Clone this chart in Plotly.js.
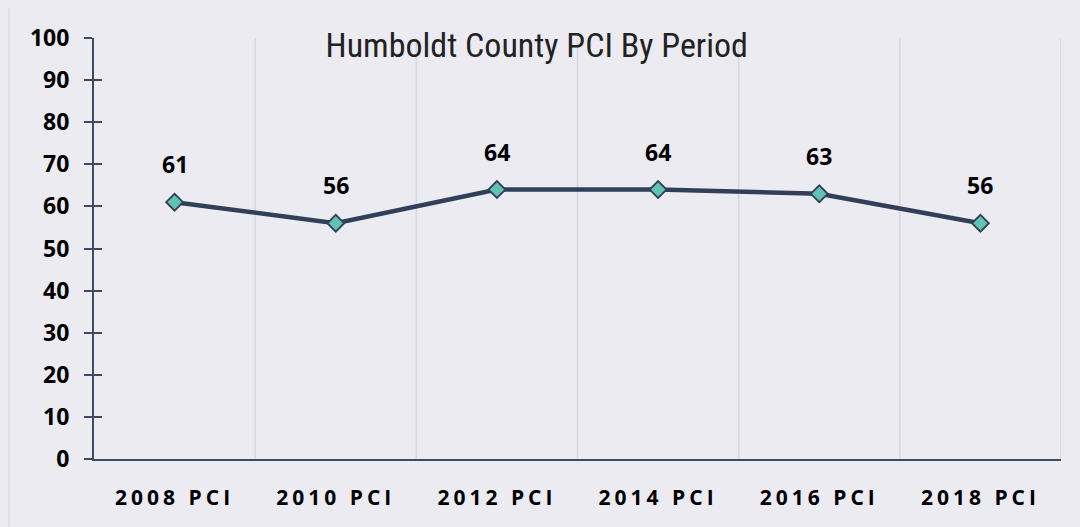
<!DOCTYPE html>
<html><head><meta charset="utf-8">
<script src="https://cdn.plot.ly/plotly-3.0.1.min.js"></script>
<style>
html,body{margin:0;padding:0;background:#ECEBF2;}
#chart{width:1080px;height:527px;}
.xtick text{letter-spacing:4px;}
</style></head>
<body><div id="chart"></div>
<script>
const categories = ["2008 PCI","2010 PCI","2012 PCI","2014 PCI","2016 PCI","2018 PCI"];
const pciValues = [61, 56, 64, 64, 63, 56];
const yTicks = [0,10,20,30,40,50,60,70,80,90,100];

const bg = "#ECEBF2";
const axisColor = "#3E4A62";

const trace = {
  x: categories, y: pciValues, type: "scatter", mode: "lines+markers",
  line: {color: "#323F5B", width: 4.5},
  marker: {symbol: "diamond", size: 13, color: "#5FC4B2", line: {color: "#323F5B", width: 1.8}},
  hoverinfo: "skip", showlegend: false
};
const crossTicks = {x: categories, y: pciValues, yaxis: "y2", type: "scatter", mode: "none", showlegend: false, hoverinfo: "skip"};

const annotations = categories.map((c, i) => ({
  x: c, y: pciValues[i], xref: "x", yref: "y", text: String(pciValues[i]),
  showarrow: false, yanchor: "bottom", yshift: 20,
  font: {family: "Open Sans, Noto Sans, sans-serif", size: 23, color: "#000", weight: 700}
}));

const layout = {
  width: 1080, height: 527,
  paper_bgcolor: bg, plot_bgcolor: bg,
  margin: {l: 94, r: 19, t: 38, b: 68},
  title: {text: "Humboldt County PCI By Period", x: 0.497, xanchor: "center", y: 0.915, yanchor: "middle",
    font: {family: "Liberation Sans Narrow, Roboto Condensed, sans-serif", size: 34, color: "#222"}},
  xaxis: {
    type: "category", range: [-0.5, 5.5], showgrid: false,
    showline: true, linecolor: axisColor, linewidth: 2, ticks: "", 
    tickfont: {family: "Open Sans, Noto Sans, sans-serif", size: 21, color: "#000", weight: 700},
    ticklabelstandoff: 19, fixedrange: true
  },
  yaxis: {
    range: [0, 100], tickvals: yTicks, showgrid: false, zeroline: false,
    showline: true, linecolor: axisColor, linewidth: 2,
    ticks: "outside", ticklen: 8, tickwidth: 2, tickcolor: axisColor,
    tickfont: {family: "Open Sans, Noto Sans, sans-serif", size: 23, color: "#000", weight: 700},
    ticklabelstandoff: 10, fixedrange: true
  },
  yaxis2: {
    overlaying: "y", range: [0, 100], tickvals: yTicks, showticklabels: false, showgrid: false,
    zeroline: false, ticks: "inside", ticklen: 8, tickwidth: 2, tickcolor: axisColor, fixedrange: true
  },
  shapes: [
    ...[0.5, 1.5, 2.5, 3.5, 4.5, 5.5].map(v => ({type: "line", xref: "x", yref: "paper", x0: v, x1: v, y0: 0, y1: 1,
      line: {color: "#D3D8E3", width: 1.5}, layer: "below"})),
    {type: "line", xref: "paper", yref: "paper", x0: -0.088, x1: -0.088, y0: -0.2, y1: 1.07,
      line: {color: "#DCDCE3", width: 1.5}}
  ],
  annotations: annotations
};

Plotly.newPlot("chart", [trace, crossTicks], layout, {displayModeBar: false, staticPlot: true});
</script></body></html>
